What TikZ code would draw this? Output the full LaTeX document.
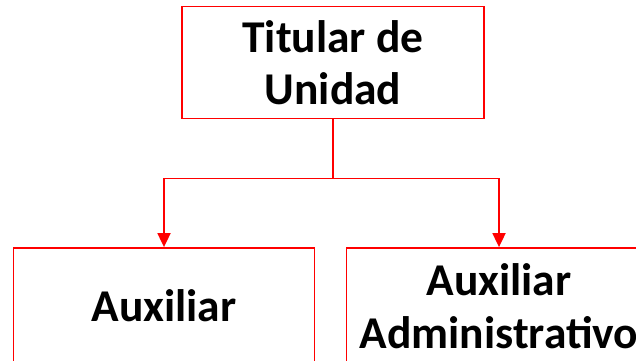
\documentclass[tikz,border=0pt]{standalone}
\usepackage{fontspec}
\setmainfont{Carlito}
\usetikzlibrary{arrows.meta}
\tikzset{
  box/.style={draw=red, line width=1.8pt, align=center, inner sep=0pt,
    font=\fontsize{45.5pt}{52.5pt}\selectfont\bfseries},
  conn/.style={draw=red, line width=1.8pt},
  arr/.style={-{Triangle[width=13pt,length=14pt]}}
}
\begin{document}
\begin{tikzpicture}[x=1pt,y=1pt]
\useasboundingbox (0,0) rectangle (636,-360);
\node[box, minimum width=302pt, minimum height=112pt] (top) at (333,-62.5) {Titular de\\Unidad};
\node[box, minimum width=301pt, minimum height=116pt] (left) at (164,-306) {Auxiliar};
\node[box, minimum width=305pt, minimum height=116pt] (right) at (499,-306) {Auxiliar\\Administrativo};
\coordinate (j) at (333,-178.5);
\draw[conn] (top.south) -- (j);
\draw[conn, arr] (j) -| (left.north);
\draw[conn, arr] (j) -| (right.north);
\end{tikzpicture}
\end{document}
